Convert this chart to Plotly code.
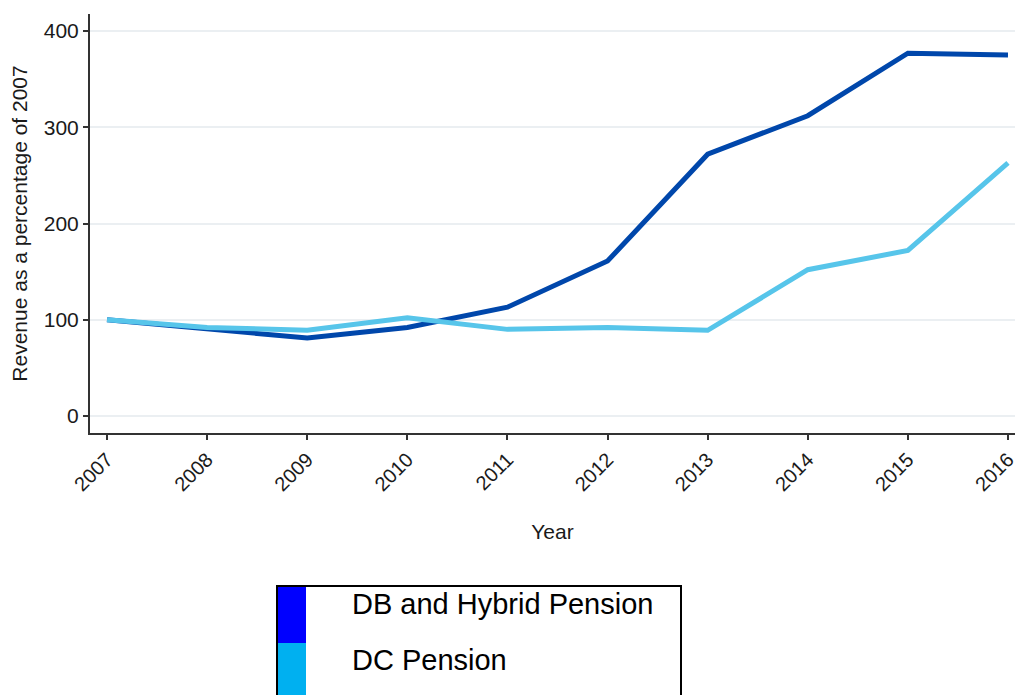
import plotly.graph_objects as go

years = [2007, 2008, 2009, 2010, 2011, 2012, 2013, 2014, 2015, 2016]
db_hybrid = [100, 91, 81, 92, 113, 161, 272, 312, 377, 375]
dc_pension = [100, 92, 89, 102, 90, 92, 89, 152, 172, 263]
series_names = ["DB and Hybrid Pension", "DC Pension"]
line_colors = ["#0047AB", "#57C5EA"]
legend_colors = ["#0000FF", "#00B0F0"]

FONT = "Liberation Sans, Arial, sans-serif"

fig = go.Figure()
for name, vals, col in zip(series_names, [db_hybrid, dc_pension], line_colors):
    fig.add_trace(go.Scatter(x=years, y=vals, mode="lines", name=name,
                             line=dict(color=col, width=5), showlegend=False))

W, H = 1017, 695
L, R, T, B = 90, 2, 14, 262
pw = W - L - R
ph = H - T - B

def px(x):
    return (x - L) / pw

def py(y):
    return (H - B - y) / ph

fig.update_layout(
    width=W, height=H,
    margin=dict(l=L, r=R, t=T, b=B, autoexpand=False),
    plot_bgcolor="white", paper_bgcolor="white",
    font=dict(family=FONT, color="#1a1a1a", size=21),
    xaxis=dict(
        range=[2006.83, 2016.07], tickmode="array", tickvals=years,
        ticktext=[str(y) for y in years], tickangle=-45,
        ticklabeloverflow="allow", automargin=False,
        showline=True, linecolor="#333333", linewidth=2,
        ticks="outside", ticklen=5, tickcolor="#333333", tickwidth=1.5,
        showgrid=False, zeroline=False,
        title=dict(text="Year", font=dict(size=21), standoff=30),
        tickfont=dict(size=20),
    ),
    yaxis=dict(
        range=[-17.7, 417.7], tickvals=[0, 100, 200, 300, 400],
        automargin=False,
        showline=True, linecolor="#333333", linewidth=2,
        ticks="outside", ticklen=5, tickcolor="#333333", tickwidth=1.5,
        showgrid=True, gridcolor="#EBEFF2", gridwidth=1.5, zeroline=False,
        title=dict(text="Revenue as a percentage of 2007", font=dict(size=21), standoff=10),
        tickfont=dict(size=21),
    ),
)

# Manual legend box
fig.add_shape(type="rect", xref="paper", yref="paper",
              x0=px(277), x1=px(681), y0=py(705), y1=py(586),
              line=dict(color="black", width=2), fillcolor="white", layer="above")
row_tops = [587, 643]
row_h = 56
for i, (name, col) in enumerate(zip(series_names, legend_colors)):
    top = row_tops[i]
    fig.add_shape(type="rect", xref="paper", yref="paper",
                  x0=px(278), x1=px(306), y0=py(top + row_h), y1=py(top),
                  line=dict(width=0), fillcolor=col, layer="above")
    fig.add_annotation(xref="paper", yref="paper", x=px(350), y=py(top + 17),
                       text=name, showarrow=False, xanchor="left", yanchor="middle",
                       font=dict(size=29, color="black", family=FONT))

fig.write_html("out.html", config={"displayModeBar": False},
               post_script="document.body.style.margin='0';document.body.style.overflow='hidden';")
